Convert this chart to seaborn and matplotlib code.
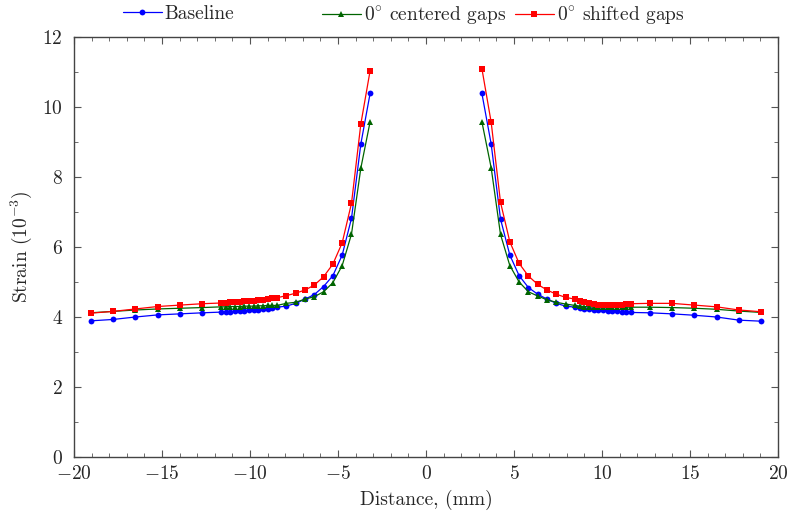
import numpy as np
import pandas as pd
import matplotlib
matplotlib.use("Agg")
import matplotlib.pyplot as plt
from matplotlib.ticker import MultipleLocator
import seaborn as sns

# ---- data ----
x_left = [-19.05, -17.78, -16.51, -15.24, -13.97, -12.70,
          -11.642, -11.377, -11.113, -10.848, -10.584, -10.319, -10.054,
          -9.790, -9.525, -9.260, -8.996, -8.731, -8.467,
          -7.938, -7.408, -6.879, -6.350, -5.821, -5.292, -4.762, -4.233, -3.704, -3.175]
x_right = [3.175, 3.704, 4.233, 4.762, 5.292, 5.821, 6.350, 6.879, 7.408, 7.938,
           8.467, 8.731, 8.996, 9.260, 9.525, 9.790, 10.054, 10.319, 10.584, 10.848,
           11.113, 11.377, 11.642,
           12.70, 13.97, 15.24, 16.51, 17.78, 19.05]

base_left = [3.89, 3.93, 4.00, 4.06, 4.09, 4.12,
             4.14, 4.145, 4.15, 4.16, 4.17, 4.18, 4.19, 4.20, 4.21, 4.22, 4.24, 4.26, 4.28,
             4.31, 4.39, 4.51, 4.64, 4.87, 5.18, 5.77, 6.82, 8.94, 10.39]
base_right = [10.39, 8.94, 6.80, 5.77, 5.18, 4.84, 4.65, 4.51, 4.39, 4.31,
              4.28, 4.26, 4.24, 4.23, 4.21, 4.20, 4.19, 4.18, 4.17, 4.16, 4.15, 4.14, 4.13,
              4.12, 4.09, 4.05, 4.00, 3.91, 3.88]

cent_left = [4.12, 4.16, 4.20, 4.23, 4.25, 4.27,
             4.29, 4.29, 4.30, 4.30, 4.30, 4.31, 4.31, 4.31, 4.32, 4.32, 4.33, 4.33, 4.33,
             4.39, 4.42, 4.51, 4.58, 4.72, 4.98, 5.47, 6.37, 8.25, 9.58]
cent_right = [9.58, 8.26, 6.36, 5.47, 5.00, 4.72, 4.60, 4.49, 4.42, 4.37,
              4.33, 4.31, 4.30, 4.29, 4.29, 4.28, 4.28, 4.28, 4.28, 4.28, 4.28, 4.28, 4.28,
              4.28, 4.27, 4.25, 4.22, 4.17, 4.13]

shift_left = [4.11, 4.16, 4.23, 4.30, 4.34, 4.38,
              4.40, 4.41, 4.42, 4.43, 4.44, 4.45, 4.46, 4.47, 4.48, 4.495, 4.51, 4.53, 4.55,
              4.61, 4.68, 4.77, 4.91, 5.15, 5.51, 6.12, 7.25, 9.51, 11.04]
shift_right = [11.10, 9.56, 7.28, 6.15, 5.53, 5.17, 4.93, 4.77, 4.65, 4.56,
               4.51, 4.46, 4.42, 4.39, 4.37, 4.35, 4.34, 4.34, 4.34, 4.34, 4.35, 4.36, 4.38,
               4.39, 4.39, 4.34, 4.29, 4.20, 4.15]

series_names = ["Baseline", r"$0^{\circ}$ centered gaps", r"$0^{\circ}$ shifted gaps"]
xticks = [-20, -15, -10, -5, 0, 5, 10, 15, 20]
yticks = [0, 2, 4, 6, 8, 10, 12]

rows = []
for name, yl, yr in zip(series_names,
                        [base_left, cent_left, shift_left],
                        [base_right, cent_right, shift_right]):
    for xv, yv in zip(x_left, yl):
        rows.append((name, "L", xv, yv))
    for xv, yv in zip(x_right, yr):
        rows.append((name, "R", xv, yv))
df = pd.DataFrame(rows, columns=["series", "branch", "x", "y"])

# ---- style ----
sns.set_style("ticks")
plt.rcParams["font.family"] = "serif"
plt.rcParams["font.serif"] = ["cmr10", "DejaVu Serif"]
plt.rcParams["mathtext.fontset"] = "cm"
plt.rcParams["axes.formatter.use_mathtext"] = True
plt.rcParams["font.size"] = 14

palette = {series_names[0]: "#0000ff", series_names[1]: "#006400", series_names[2]: "#ff0000"}
markers = {series_names[0]: "o", series_names[1]: "^", series_names[2]: "s"}

fig = plt.figure(figsize=(7.9, 5.19), dpi=100)
ax = fig.add_axes([74 / 790, 1 - 457 / 519, (778 - 74) / 790, (457 - 37) / 519])

sns.lineplot(data=df, x="x", y="y", hue="series", style="series", units="branch",
             estimator=None, sort=True, palette=palette, markers=markers, dashes=False,
             hue_order=series_names, style_order=series_names,
             linewidth=0.9, markersize=4.2, markeredgewidth=0, ax=ax, legend=True)

ax.set_xlim(-20, 20)
ax.set_ylim(0, 12)
ax.set_xticks(xticks)
ax.set_yticks(yticks)
ax.xaxis.set_minor_locator(MultipleLocator(1))
ax.yaxis.set_minor_locator(MultipleLocator(1))
ax.tick_params(which="both", direction="in", top=True, right=True, color="#555555")
ax.tick_params(which="major", length=5, width=0.8, labelsize=14)
ax.tick_params(axis="x", which="major", pad=6)
ax.tick_params(axis="y", which="major", pad=8)
ax.tick_params(which="minor", length=3, width=0.6)
for s in ax.spines.values():
    s.set_color("#444444")
    s.set_linewidth(1.0)

ax.set_xlabel("Distance, (mm)", fontsize=14, labelpad=5)
ax.set_ylabel(r"Strain ($10^{-3}$)", fontsize=14, labelpad=6)

handles, labels = ax.get_legend_handles_labels()
ax.get_legend().remove()
legend_left_px = [123, 322, 515]
for h, lab, xpx in zip(handles, labels, legend_left_px):
    leg = fig.legend([h], [lab], loc="upper left", bbox_to_anchor=(xpx / 790, 1 - 5 / 519),
                     frameon=False, fontsize=14, handlelength=2.0, handletextpad=0.15,
                     borderpad=0, borderaxespad=0)

fig.savefig("out.png", dpi=100)
